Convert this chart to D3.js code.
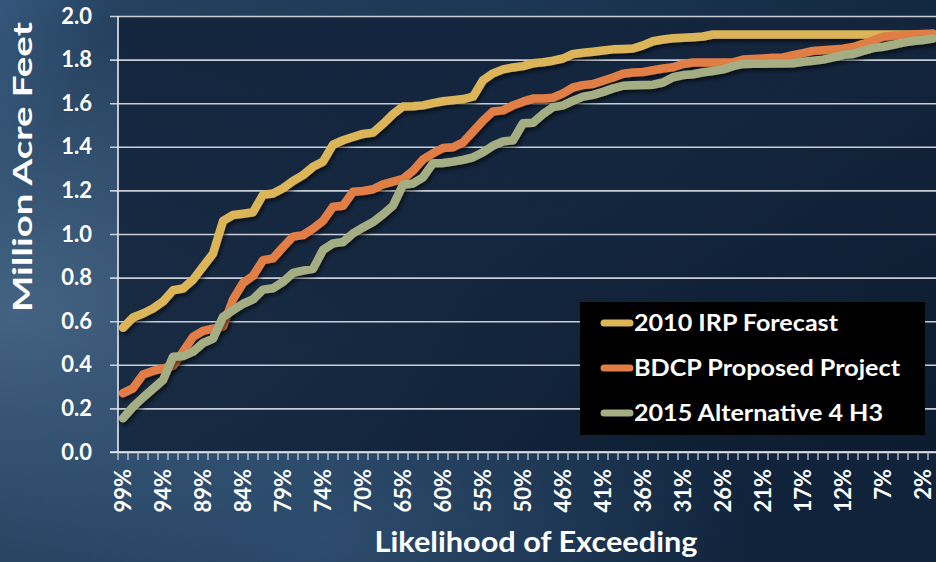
<!DOCTYPE html>
<html>
<head>
<meta charset="utf-8">
<script src="https://cdn.jsdelivr.net/npm/d3@7"></script>
<style>
  html, body { margin: 0; padding: 0; background: #1b3350; }
  svg { display: block; }
  text { font-family: Lato, "Open Sans", "DejaVu Sans", sans-serif; font-weight: 700; fill: #ffffff; }
</style>
</head>
<body>
<svg id="chart" width="936" height="562"></svg>
<script>
// Exceedance probability of each ranked year (x categories)
const categories = [
  "99%","98%","96%","95%","94%","93%","92%","90%","89%","88%","87%","86%",
  "84%","83%","82%","81%","79%","78%","77%","76%","74%","73%","72%","71%",
  "70%","68%","67%","66%","65%","64%","62%","61%","60%","59%","57%","56%",
  "55%","54%","52%","51%","50%","49%","48%","47%","46%","45%","43%","42%",
  "41%","40%","39%","38%","36%","35%","34%","33%","31%","30%","29%","28%",
  "26%","25%","24%","23%","21%","20%","19%","18%","17%","16%","15%","13%",
  "12%","11%","10%","9%","7%","6%","5%","4%","2%","1%"
];

// Deliveries, million acre-feet
const irp2010 = [
  0.57,0.617,0.635,0.658,0.69,0.742,0.75,0.79,0.85,0.91,1.06,1.087,
  1.093,1.10,1.18,1.186,1.21,1.243,1.27,1.308,1.332,1.41,1.43,1.445,
  1.459,1.465,1.505,1.55,1.585,1.586,1.59,1.60,1.609,1.614,1.619,1.63,
  1.705,1.737,1.755,1.764,1.77,1.783,1.788,1.795,1.805,1.826,1.831,1.836,
  1.842,1.847,1.849,1.851,1.865,1.884,1.892,1.898,1.90,1.903,1.906,1.915,
  1.915,1.915,1.915,1.915,1.915,1.915,1.915,1.915,1.915,1.915,1.915,1.915,
  1.915,1.915,1.915,1.915,1.915,1.915,1.915,1.915,1.915,1.915
];
const bdcpProposed = [
  0.27,0.292,0.355,0.372,0.383,0.395,0.46,0.528,0.556,0.566,0.575,0.70,
  0.775,0.808,0.88,0.888,0.94,0.988,0.995,1.025,1.06,1.125,1.13,1.194,
  1.197,1.205,1.228,1.24,1.253,1.29,1.342,1.37,1.394,1.398,1.42,1.47,
  1.52,1.562,1.567,1.59,1.607,1.621,1.622,1.625,1.645,1.672,1.683,1.688,
  1.703,1.718,1.735,1.741,1.743,1.751,1.759,1.765,1.78,1.787,1.787,1.787,
  1.787,1.787,1.80,1.803,1.805,1.808,1.81,1.82,1.83,1.84,1.843,1.846,
  1.85,1.858,1.872,1.888,1.905,1.909,1.912,1.915,1.918,1.92
];
const alt4H3 = [
  0.155,0.207,0.25,0.29,0.33,0.437,0.44,0.46,0.50,0.52,0.62,0.65,
  0.68,0.70,0.745,0.751,0.78,0.822,0.832,0.84,0.927,0.957,0.963,1.003,
  1.03,1.055,1.09,1.13,1.226,1.232,1.26,1.325,1.326,1.332,1.34,1.352,
  1.375,1.405,1.425,1.43,1.508,1.51,1.55,1.582,1.59,1.612,1.63,1.638,
  1.652,1.668,1.68,1.682,1.684,1.685,1.695,1.719,1.729,1.733,1.742,1.748,
  1.755,1.77,1.78,1.781,1.781,1.782,1.782,1.783,1.79,1.795,1.80,1.81,
  1.822,1.826,1.84,1.853,1.859,1.868,1.878,1.885,1.89,1.897
];

const seriesNames = ["2010 IRP Forecast", "BDCP Proposed Project", "2015 Alternative 4 H3"];
const seriesColors = ["#dbb558", "#e07e45", "#a4ae82"];
const seriesValues = [irp2010, bdcpProposed, alt4H3];

const yTicks = [0, 0.2, 0.4, 0.6, 0.8, 1.0, 1.2, 1.4, 1.6, 1.8, 2.0];
const xTitle = "Likelihood of Exceeding";
const yTitle = "Million Acre Feet";

const W = 936, H = 562;
const plotLeft = 118, plotTop = 16, plotBottom = 452, bandW = 10;

const svg = d3.select("#chart");
const defs = svg.append("defs");

// backdrop
const bg = defs.append("linearGradient").attr("id", "bg").attr("x1", 0).attr("y1", 0).attr("x2", 1).attr("y2", 0.35);
bg.append("stop").attr("offset", "0").attr("stop-color", "#36587c");
bg.append("stop").attr("offset", "0.12").attr("stop-color", "#24415f");
bg.append("stop").attr("offset", "0.55").attr("stop-color", "#1b3552");
bg.append("stop").attr("offset", "1").attr("stop-color", "#10233b");
svg.append("rect").attr("width", W).attr("height", H).attr("fill", "url(#bg)");

const glow = defs.append("radialGradient").attr("id", "glow").attr("cx", 0.02).attr("cy", 0.55).attr("r", 0.5);
glow.append("stop").attr("offset", "0").attr("stop-color", "#5a7a9c").attr("stop-opacity", 0.6);
glow.append("stop").attr("offset", "1").attr("stop-color", "#5a7a9c").attr("stop-opacity", 0);
svg.append("rect").attr("width", W).attr("height", H).attr("fill", "url(#glow)");

const glow2 = defs.append("radialGradient").attr("id", "glow2").attr("cx", 0.35).attr("cy", 0.95).attr("r", 0.45);
glow2.append("stop").attr("offset", "0").attr("stop-color", "#3e6186").attr("stop-opacity", 0.55);
glow2.append("stop").attr("offset", "1").attr("stop-color", "#3e6186").attr("stop-opacity", 0);
svg.append("rect").attr("width", W).attr("height", H).attr("fill", "url(#glow2)");

const x = d3.scaleBand().domain(categories).range([plotLeft, plotLeft + bandW * categories.length]);
const y = d3.scaleLinear().domain([0, 2]).range([plotBottom, plotTop]);

// darker plot panel
const panel = defs.append("linearGradient").attr("id", "panel").attr("x1", 0).attr("y1", 0).attr("x2", 1).attr("y2", 1);
panel.append("stop").attr("offset", "0").attr("stop-color", "#12223a");
panel.append("stop").attr("offset", "0.5").attr("stop-color", "#13253c");
panel.append("stop").attr("offset", "1").attr("stop-color", "#0c1a2d");
svg.append("rect").attr("x", plotLeft).attr("y", plotTop).attr("width", W - plotLeft).attr("height", plotBottom - plotTop)
  .attr("fill", "url(#panel)").attr("opacity", 0.88);

// horizontal grid + y ticks
const yAxis = d3.axisLeft(y).tickValues(yTicks).tickFormat(d3.format(".1f"))
  .tickSizeInner(-(W - plotLeft)).tickSizeOuter(0).tickPadding(26);
const gy = svg.append("g").attr("transform", `translate(${plotLeft},0)`).call(yAxis);
gy.select(".domain").remove();
gy.selectAll(".tick line").attr("x1", -8).attr("stroke", "#c9ced6").attr("stroke-width", 1.6);
gy.selectAll(".tick text").attr("font-size", 22).attr("fill", "#fff")
  .style("font-family", "Lato, sans-serif").style("font-weight", 700);

// vertical axis line
svg.append("line").attr("x1", plotLeft).attr("x2", plotLeft).attr("y1", plotTop).attr("y2", plotBottom)
  .attr("stroke", "#e8ebef").attr("stroke-width", 1.6);
// bottom axis line
svg.append("line").attr("x1", plotLeft - 8).attr("x2", W).attr("y1", plotBottom).attr("y2", plotBottom)
  .attr("stroke", "#e8ebef").attr("stroke-width", 1.6);

// category boundary ticks
const bounds = categories.map(c => x(c));
svg.append("g").selectAll("line").data(bounds).join("line")
  .attr("x1", d => d).attr("x2", d => d).attr("y1", plotBottom).attr("y2", plotBottom + 8)
  .attr("stroke", "#c9ced6").attr("stroke-width", 1.3);

// x labels every 4th category
const xAxis = d3.axisBottom(x).tickValues(categories.filter((d, i) => i % 4 === 0)).tickSize(0);
const gx = svg.append("g").attr("transform", `translate(0,${plotBottom})`).call(xAxis);
gx.select(".domain").remove();
gx.selectAll(".tick text")
  .attr("transform", "rotate(-90)")
  .attr("text-anchor", "end")
  .attr("x", -17).attr("y", 0).attr("dy", "0.36em")
  .attr("font-size", 22).attr("fill", "#fff")
  .style("font-family", "Lato, sans-serif").style("font-weight", 700);

// series lines
const shadow = defs.append("filter").attr("id", "shadow").attr("x", "-5%").attr("y", "-5%").attr("width", "110%").attr("height", "120%");
shadow.append("feDropShadow").attr("dx", 1.5).attr("dy", 3).attr("stdDeviation", 2)
  .attr("flood-color", "#000").attr("flood-opacity", 0.6);

const line = d3.line()
  .x((d, i) => x(categories[i]) + x.bandwidth() / 2)
  .y(d => y(d));

const plot = svg.append("g");
seriesValues.forEach((vals, k) => {
  plot.append("path").datum(vals)
    .attr("d", line)
    .attr("fill", "none")
    .attr("stroke", seriesColors[k])
    .attr("stroke-width", 8.5)
    .attr("stroke-linejoin", "round")
    .attr("stroke-linecap", "round")
    .attr("filter", "url(#shadow)");
});

// axis titles
svg.append("text").attr("x", 536).attr("y", 552).attr("text-anchor", "middle")
  .attr("font-size", 28).attr("textLength", 323).attr("lengthAdjust", "spacingAndGlyphs").text(xTitle);
svg.append("text").attr("transform", "translate(32,167) rotate(-90)").attr("text-anchor", "middle")
  .attr("font-size", 26).attr("textLength", 290).attr("lengthAdjust", "spacingAndGlyphs").text(yTitle);

// legend
const lg = svg.append("g").attr("transform", "translate(580,302)");
lg.append("rect").attr("width", 345).attr("height", 133).attr("fill", "#000");
const rowY = [21, 66, 111];
const textW = [204, 266, 249];
seriesNames.forEach((name, k) => {
  lg.append("line").attr("x1", 24).attr("x2", 50).attr("y1", rowY[k]).attr("y2", rowY[k])
    .attr("stroke", seriesColors[k]).attr("stroke-width", 7).attr("stroke-linecap", "round");
  lg.append("text").attr("x", 54).attr("y", rowY[k]).attr("dy", "0.36em")
    .attr("font-size", 23.5).attr("textLength", textW[k]).attr("lengthAdjust", "spacingAndGlyphs").text(name);
});
</script>
</body>
</html>
